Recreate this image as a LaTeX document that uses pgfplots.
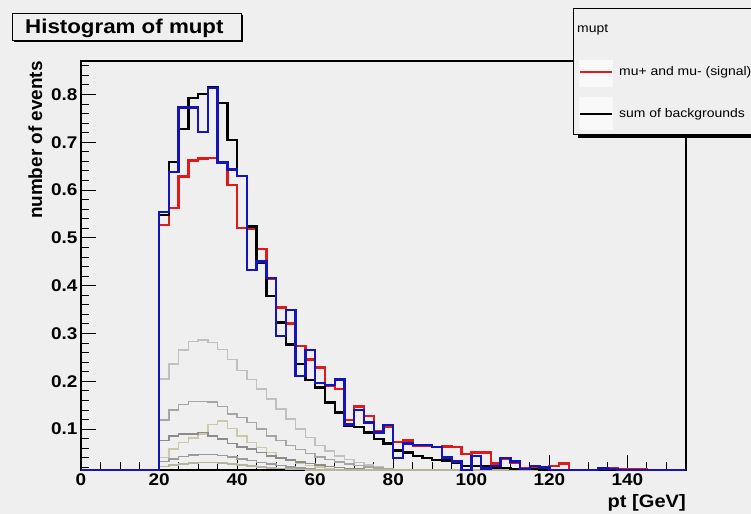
\documentclass[border=0pt]{standalone}
\usepackage{fontspec}
\setmainfont{Liberation Sans}[FakeStretch=1.12]
\newfontfamily\ylabfont{Liberation Sans}
\usepackage{pgfplots}
\pgfplotsset{compat=1.18}
\definecolor{bgc}{RGB}{239,239,239}
\definecolor{hred}{RGB}{225,25,25}
\definecolor{hblue}{RGB}{20,20,185}
\definecolor{gA}{RGB}{192,192,192}
\definecolor{gB}{RGB}{165,165,165}
\definecolor{gC}{RGB}{140,140,140}
\definecolor{gD}{RGB}{205,200,170}
\definecolor{gE}{RGB}{155,155,155}
\definecolor{gF}{RGB}{185,180,160}
\begin{document}
\begin{tikzpicture}
\useasboundingbox (0bp,0bp) rectangle (751bp,514bp);
\fill[bgc] (0bp,0bp) rectangle (751bp,514bp);
\begin{axis}[
  at={(81bp,44bp)}, anchor=south west,
  scale only axis, width=605bp, height=409bp,
  xmin=0, xmax=155, ymin=0.0145, ymax=0.87,
  clip=false,
  axis line style={black, line width=1.2bp},
  tick align=inside, xtick pos=left, ytick pos=left,
  xtick={0,20,40,60,80,100,120,140},
  minor xtick={5,10,15,25,30,35,45,50,55,65,70,75,85,90,95,105,110,115,125,130,135,145,150},
  ytick={0.1,0.2,0.3,0.4,0.5,0.6,0.7,0.8},
  minor ytick={0.02,0.04,0.06,0.08,0.12,0.14,0.16,0.18,0.22,0.24,0.26,0.28,0.32,0.34,0.36,0.38,0.42,0.44,0.46,0.48,0.52,0.54,0.56,0.58,0.62,0.64,0.66,0.68,0.72,0.74,0.76,0.78,0.82,0.84,0.86},
  major tick length=15bp, minor tick length=8bp,
  every tick/.style={black, line width=1bp},
  tick label style={font=\bfseries\fontsize{17}{17}\selectfont},
  /pgf/number format/assume math mode=true,
  yticklabel style={/pgf/number format/fixed, /pgf/number format/precision=1},
  const plot,
]
% background contributions (grey)
\addplot[gA, line width=1.5bp] coordinates {(0,0.0145) (20,0.205) (22.5,0.236) (25,0.266) (27.5,0.283) (30,0.286) (32.5,0.281) (35,0.267) (37.5,0.246) (40,0.223) (42.5,0.204) (45,0.184) (47.5,0.163) (50,0.142) (52.5,0.121) (55,0.100) (57.5,0.082) (60,0.066) (62.5,0.054) (65,0.044) (67.5,0.036) (70,0.030) (72.5,0.025) (75,0.021) (77.5,0.018) (80,0.016) (82.5,0.0145) (155,0.0145)};
\addplot[gB, line width=1.5bp] coordinates {(0,0.0145) (20,0.119) (22.5,0.140) (25,0.151) (27.5,0.158) (30,0.158) (32.5,0.157) (35,0.147) (37.5,0.132) (40,0.124) (42.5,0.114) (45,0.100) (47.5,0.086) (50,0.076) (52.5,0.066) (55,0.057) (57.5,0.049) (60,0.042) (62.5,0.036) (65,0.031) (67.5,0.027) (70,0.024) (72.5,0.021) (75,0.019) (77.5,0.017) (80,0.016) (82.5,0.0145) (155,0.0145)};
\addplot[gD, line width=1.5bp] coordinates {(0,0.0145) (20,0.041) (22.5,0.058) (25,0.072) (27.5,0.081) (30,0.090) (32.5,0.110) (35,0.117) (37.5,0.101) (40,0.086) (42.5,0.072) (45,0.062) (47.5,0.051) (50,0.041) (52.5,0.034) (55,0.028) (57.5,0.024) (60,0.021) (62.5,0.018) (65,0.016) (67.5,0.0145) (155,0.0145)};
\addplot[gC, line width=1.5bp] coordinates {(0,0.0145) (20,0.076) (22.5,0.086) (25,0.090) (27.5,0.090) (30,0.093) (32.5,0.086) (35,0.079) (37.5,0.070) (40,0.063) (42.5,0.058) (45,0.051) (47.5,0.044) (50,0.040) (52.5,0.035) (55,0.031) (57.5,0.028) (60,0.025) (62.5,0.022) (65,0.020) (67.5,0.018) (70,0.017) (72.5,0.016) (75,0.0145) (155,0.0145)};
\addplot[gE, line width=1.5bp] coordinates {(0,0.0145) (20,0.032) (22.5,0.038) (25,0.043) (27.5,0.046) (30,0.047) (32.5,0.047) (35,0.045) (37.5,0.042) (40,0.038) (42.5,0.034) (45,0.030) (47.5,0.027) (50,0.024) (52.5,0.021) (55,0.019) (57.5,0.017) (60,0.016) (62.5,0.0145) (155,0.0145)};
\addplot[gF, line width=1.5bp] coordinates {(0,0.0145) (20,0.022) (22.5,0.025) (25,0.027) (27.5,0.029) (30,0.030) (32.5,0.030) (35,0.029) (37.5,0.027) (40,0.025) (42.5,0.023) (45,0.021) (47.5,0.019) (50,0.018) (52.5,0.017) (55,0.016) (57.5,0.0145) (155,0.0145)};
% signal
\addplot[hred, line width=2.4bp] coordinates {(0,0.0145) (20,0.527) (22.5,0.563) (25,0.628) (27.5,0.662) (30,0.666) (32.5,0.667) (35,0.659) (37.5,0.611) (40,0.521) (42.5,0.518) (45,0.477) (47.5,0.415) (50,0.354) (52.5,0.321) (55,0.274) (57.5,0.246) (60,0.229) (62.5,0.190) (65,0.184) (67.5,0.119) (70,0.147) (72.5,0.128) (75,0.096) (77.5,0.105) (80,0.073) (82.5,0.076) (85,0.066) (87.5,0.066) (90,0.063) (92.5,0.064) (95,0.062) (97.5,0.048) (100,0.051) (102.5,0.051) (105,0.028) (107.5,0.038) (110,0.030) (112.5,0.019) (115,0.022) (117.5,0.019) (120,0.023) (122.5,0.028) (125,0.0145) (132.5,0.016) (135,0.019) (137.5,0.017) (140,0.016) (142.5,0.016) (145,0.0145) (155,0.0145)};
% sum of backgrounds
\addplot[black, line width=2.4bp] coordinates {(0,0.0145) (20,0.548) (22.5,0.659) (25,0.728) (27.5,0.792) (30,0.801) (32.5,0.815) (35,0.782) (37.5,0.705) (40,0.630) (42.5,0.524) (45,0.448) (47.5,0.378) (50,0.323) (52.5,0.277) (55,0.236) (57.5,0.203) (60,0.187) (62.5,0.156) (65,0.135) (67.5,0.107) (70,0.105) (72.5,0.093) (75,0.079) (77.5,0.070) (80,0.055) (82.5,0.051) (85,0.044) (87.5,0.039) (90,0.036) (92.5,0.034) (95,0.030) (97.5,0.023) (100,0.023) (102.5,0.022) (105,0.019) (107.5,0.019) (110,0.017) (112.5,0.016) (115,0.016) (117.5,0.0145) (155,0.0145)};
% data
\addplot[hblue, line width=2.4bp] coordinates {(0,0.0145) (20,0.554) (22.5,0.638) (25,0.773) (27.5,0.773) (30,0.721) (32.5,0.813) (35,0.658) (37.5,0.643) (40,0.630) (42.5,0.433) (45,0.451) (47.5,0.416) (50,0.295) (52.5,0.349) (55,0.211) (57.5,0.266) (60,0.197) (62.5,0.192) (65,0.204) (67.5,0.110) (70,0.140) (72.5,0.114) (75,0.093) (77.5,0.108) (80,0.039) (82.5,0.070) (85,0.067) (87.5,0.067) (90,0.062) (92.5,0.041) (95,0.032) (97.5,0.0145) (100,0.044) (102.5,0.018) (105,0.023) (107.5,0.039) (110,0.032) (112.5,0.017) (115,0.023) (117.5,0.020) (120,0.0145) (132.5,0.018) (135,0.017) (137.5,0.0145) (155,0.0145)};
\end{axis}
% y axis title
\node[rotate=90, anchor=base east, inner sep=0pt, font=\ylabfont\bfseries\fontsize{19}{19}\selectfont] at (42bp,453bp) {number of events};
% x axis title
\node[anchor=base east, inner sep=0pt, font=\bfseries\fontsize{18}{18}\selectfont] at (686bp,7bp) {pt [GeV]};
% title box
\fill[black] (14bp,471.5bp) rectangle (243bp,498.5bp);
\filldraw[fill=bgc, draw=black, line width=1bp] (12bp,473.5bp) rectangle (241bp,500.5bp);
\node[anchor=base west, inner sep=0pt, font=\bfseries\fontsize{20}{20}\selectfont] at (25bp,480.7bp) {Histogram of mupt};
% legend
\fill[black] (578bp,376bp) rectangle (770bp,380bp);
\filldraw[fill=bgc, draw=black, line width=1bp] (573bp,379bp) rectangle (770bp,505bp);
\fill[white!60!bgc] (579bp,427bp) rectangle (613bp,454bp);
\fill[white!60!bgc] (579bp,384bp) rectangle (613bp,417bp);
\node[anchor=west, inner sep=0pt, font=\fontsize{12.5}{12.5}\selectfont] at (577bp,484bp) {mupt};
\draw[hred, line width=2bp] (580bp,441.5bp) -- (612bp,441.5bp);
\node[anchor=west, inner sep=0pt, font=\fontsize{12.5}{12.5}\selectfont] at (619bp,441.5bp) {mu+ and mu- (signal)};
\draw[black, line width=2bp] (580bp,400bp) -- (612bp,400bp);
\node[anchor=west, inner sep=0pt, font=\fontsize{12.5}{12.5}\selectfont] at (619bp,400bp) {sum of backgrounds};
\end{tikzpicture}
\end{document}
